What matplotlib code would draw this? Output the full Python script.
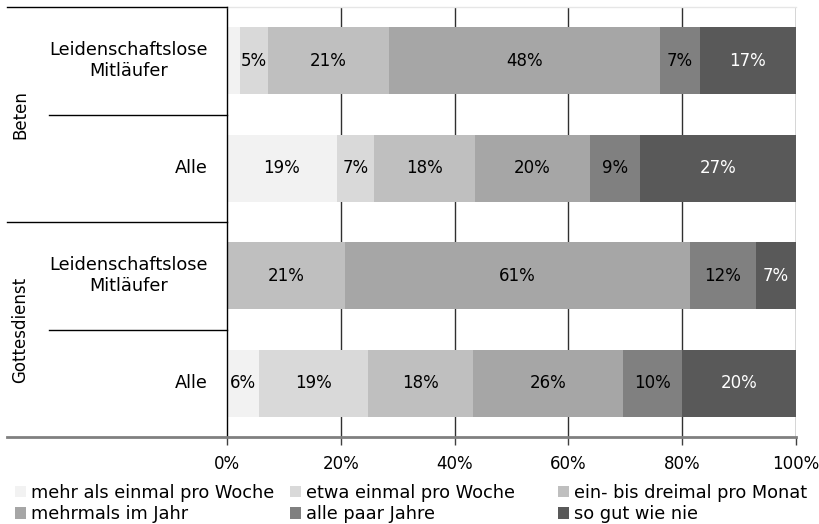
import matplotlib
matplotlib.use("Agg")
import matplotlib.pyplot as plt
from matplotlib.patches import Patch
from matplotlib.lines import Line2D
from matplotlib.transforms import blended_transform_factory

plt.rcParams['font.family'] = ['DejaVu Sans']

# ---- data ----
groups = ["Beten", "Gottesdienst"]
categories = ["Leidenschaftslose\nMitläufer", "Alle", "Leidenschaftslose\nMitläufer", "Alle"]
series_names = ["mehr als einmal pro Woche", "etwa einmal pro Woche", "ein- bis dreimal pro Monat",
                "mehrmals im Jahr", "alle paar Jahre", "so gut wie nie"]
s1 = [2.3, 19.3, 0.0, 5.6]
s2 = [4.9, 6.6, 0.0, 19.2]
s3 = [21.3, 17.7, 20.7, 18.4]
s4 = [47.6, 20.2, 60.6, 26.4]
s5 = [7.0, 8.8, 11.7, 10.3]
s6 = [16.9, 27.4, 7.0, 20.1]
xticks = [0, 20, 40, 60, 80, 100]
xticklabels = ["0%", "20%", "40%", "60%", "80%", "100%"]

series = [s1, s2, s3, s4, s5, s6]
colors = ["#F2F2F2", "#D9D9D9", "#BFBFBF", "#A6A6A6", "#808080", "#595959"]
text_colors = ["black", "black", "black", "black", "black", "white"]
FS = 12
FS_TXT = 12.8

W, H = 820, 524
fig = plt.figure(figsize=(W / 100, H / 100), dpi=100)
ax = fig.add_axes([227 / W, 1 - 437 / H, (796 - 227) / W, (437 - 7) / H])

n = len(categories)
ypos = [n - 1 - i for i in range(n)]
left = [0.0] * n
for vals, c, tc in zip(series, colors, text_colors):
    ax.barh(ypos, vals, left=left, height=0.62, color=c, edgecolor='none', zorder=2)
    for y, v, l in zip(ypos, vals, left):
        if v >= 3:
            ax.text(l + v / 2, y, f"{round(v)}%", ha='center', va='center', fontsize=FS, color=tc, zorder=3)
    left = [a + b for a, b in zip(left, vals)]

ax.set_xlim(0, 100)
ax.set_ylim(-0.5, n - 0.5)
ax.set_xticks(xticks)
ax.set_xticklabels(xticklabels, fontsize=FS)
ax.set_yticks([])
ax.tick_params(axis='x', length=6, width=1, color='#404040', pad=7)
for x in xticks[1:]:
    ax.axvline(x, color='#303030', lw=1, zorder=1)
ax.spines['left'].set_color('black')
ax.spines['left'].set_linewidth(1)
ax.spines['right'].set_visible(False)
ax.spines['top'].set_color('#E6E6E6')
ax.spines['top'].set_linewidth(1)
ax.spines['bottom'].set_visible(False)

tr = blended_transform_factory(fig.transFigure, ax.transData)
x0 = 7 / W
x_sub = 49 / W
x_ax = 227 / W
# table lines
for y, xs in [(n - 0.5, x0), (n - 1.5, x_sub), (n - 2.5, x0), (n - 3.5, x_sub)]:
    fig.add_artist(Line2D([xs, x_ax], [y, y], transform=tr, color='black', lw=1))
fig.add_artist(Line2D([x0, 796 / W], [-0.5, -0.5], transform=tr, color='#808080', lw=2, zorder=5))

# category labels
for y, cat in zip(ypos, categories):
    ax.text(208 / W, y, cat, transform=tr, ha='right', va='center', multialignment='center', fontsize=FS_TXT)
# group labels
for gi, g in enumerate(groups):
    yc = n - 1 - (2 * gi + 0.5)
    ax.text(20 / W, yc, g, transform=tr, ha='center', va='center', rotation=90, fontsize=FS)

# legend (three columns placed like reference)
handles = [Patch(facecolor=c, edgecolor='none') for c in colors]
col_x = [15, 290, 558]
for ci in range(3):
    idx = [ci, ci + 3]
    fig.legend([handles[i] for i in idx], [series_names[i] for i in idx],
               loc='upper left', bbox_to_anchor=(col_x[ci] / W, 1 - 484 / H),
               frameon=False, fontsize=FS_TXT, handlelength=0.6, handleheight=0.6,
               handletextpad=0.3, labelspacing=0.18, borderpad=0, borderaxespad=0)

fig.savefig("out.png", dpi=100)
